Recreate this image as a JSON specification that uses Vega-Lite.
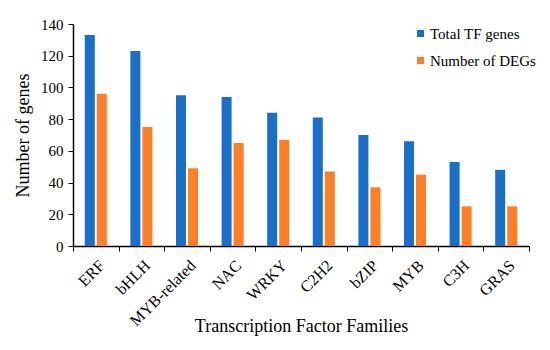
{
  "$schema": "https://vega.github.io/schema/vega-lite/v6.json",
  "width": 456,
  "height": 222,
  "autosize": {"type": "none"},
  "padding": {"left": 73, "top": 24, "right": 21, "bottom": 104},
  "background": "white",
  "config": {
    "view": {"stroke": null},
    "font": "Liberation Serif",
    "axis": {"labelFont": "Liberation Serif", "titleFont": "Liberation Serif", "labelColor": "black", "titleColor": "black", "titleFontWeight": "normal", "domainColor": "black", "tickColor": "black", "grid": false},
    "legend": {"labelFont": "Liberation Serif", "labelColor": "black"}
  },
  "data": {
    "values": [
      {"family": "ERF", "series": "Total TF genes", "n": 133},
      {"family": "ERF", "series": "Number of DEGs", "n": 96},
      {"family": "bHLH", "series": "Total TF genes", "n": 123},
      {"family": "bHLH", "series": "Number of DEGs", "n": 75},
      {"family": "MYB-related", "series": "Total TF genes", "n": 95},
      {"family": "MYB-related", "series": "Number of DEGs", "n": 49},
      {"family": "NAC", "series": "Total TF genes", "n": 94},
      {"family": "NAC", "series": "Number of DEGs", "n": 65},
      {"family": "WRKY", "series": "Total TF genes", "n": 84},
      {"family": "WRKY", "series": "Number of DEGs", "n": 67},
      {"family": "C2H2", "series": "Total TF genes", "n": 81},
      {"family": "C2H2", "series": "Number of DEGs", "n": 47},
      {"family": "bZIP", "series": "Total TF genes", "n": 70},
      {"family": "bZIP", "series": "Number of DEGs", "n": 37},
      {"family": "MYB", "series": "Total TF genes", "n": 66},
      {"family": "MYB", "series": "Number of DEGs", "n": 45},
      {"family": "C3H", "series": "Total TF genes", "n": 53},
      {"family": "C3H", "series": "Number of DEGs", "n": 25},
      {"family": "GRAS", "series": "Total TF genes", "n": 48},
      {"family": "GRAS", "series": "Number of DEGs", "n": 25}
    ]
  },
  "mark": {"type": "bar"},
  "encoding": {
    "x": {
      "field": "family", "type": "nominal", "sort": null,
      "scale": {"paddingInner": 0, "paddingOuter": 0},
      "axis": {"title": "Transcription Factor Families", "labelAngle": -45, "labelAlign": "right", "labelBaseline": "top", "labelFontSize": 16, "titleFontSize": 18, "tickBand": "extent", "tickSize": 5, "labelPadding": 6, "titleY": 71, "titleBaseline": "top", "domainWidth": 1.5}
    },
    "xOffset": {
      "field": "series", "type": "nominal", "sort": ["Total TF genes", "Number of DEGs"],
      "scale": {"paddingInner": 0.1667, "paddingOuter": 0.98}
    },
    "y": {
      "field": "n", "type": "quantitative",
      "scale": {"domain": [0, 140]},
      "axis": {"title": "Number of genes", "values": [0, 20, 40, 60, 80, 100, 120, 140], "labelFontSize": 15, "titleFontSize": 18, "tickSize": 5, "labelPadding": 5, "titlePadding": 8, "domainWidth": 1.5}
    },
    "color": {
      "field": "series", "type": "nominal",
      "scale": {"domain": ["Total TF genes", "Number of DEGs"], "range": ["#1A6FC9", "#FF7F27"]},
      "legend": {"title": null, "orient": "none", "legendX": 340, "legendY": 2, "symbolType": "square", "symbolSize": 50, "labelFont": "Liberation Serif", "labelColor": "black", "labelFontSize": 15, "rowPadding": 11, "labelOffset": 2}
    }
  }
}
